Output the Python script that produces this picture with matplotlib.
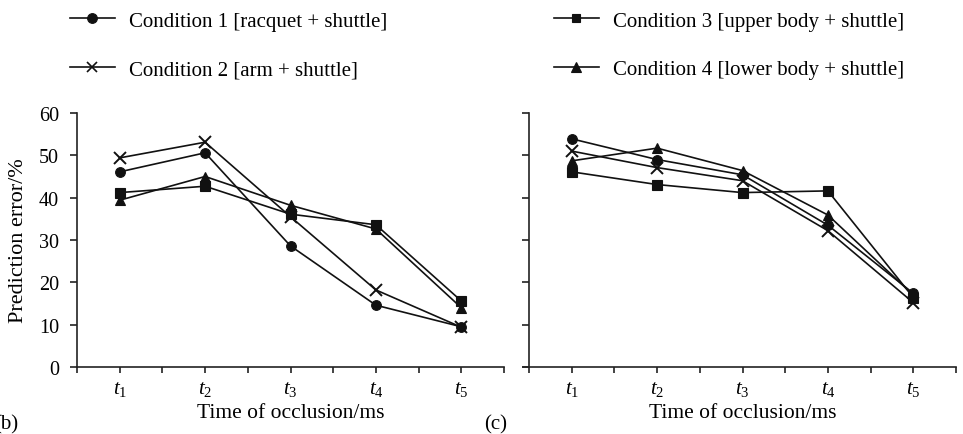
import matplotlib
matplotlib.use("Agg")
import matplotlib.pyplot as plt
from matplotlib.lines import Line2D

plt.rcParams['font.family'] = ['Liberation Serif', 'DejaVu Serif']
plt.rcParams['mathtext.fontset'] = 'custom'
plt.rcParams['mathtext.rm'] = 'Liberation Serif'
plt.rcParams['mathtext.it'] = 'Liberation Serif:italic'

time_labels = [r'$t_1$', r'$t_2$', r'$t_3$', r'$t_4$', r'$t_5$']
condition_labels = ['Condition 1 [racquet + shuttle]',
                    'Condition 2 [arm + shuttle]',
                    'Condition 3 [upper body + shuttle]',
                    'Condition 4 [lower body + shuttle]']

# panel (b)
b_cond1 = [46.1, 50.6, 28.6, 14.6, 9.5]
b_cond2 = [49.4, 53.1, 35.5, 18.2, 9.4]
b_cond3 = [41.2, 42.7, 36.1, 33.6, 15.6]
b_cond4 = [39.4, 45.0, 38.2, 32.6, 14.0]
# panel (c)
c_cond1 = [53.9, 49.0, 45.4, 33.5, 17.4]
c_cond2 = [51.0, 47.1, 44.0, 32.2, 15.2]
c_cond3 = [46.1, 43.1, 41.2, 41.6, 16.4]
c_cond4 = [48.7, 51.7, 46.4, 35.9, 17.0]

markers = ['o', 'x', 's', '^']
msizes = [7, 9, 7, 7.5]

W, H = 963, 435
fig = plt.figure(figsize=(W/100, H/100), dpi=100)

def px_axes(x0, x1, ytop, ybot):
    return fig.add_axes([x0/W, 1-ybot/H, (x1-x0)/W, (ybot-ytop)/H])

axb = px_axes(77, 504, 114, 368)
axc = px_axes(529, 956, 114, 368)

x = list(range(1, 6))
for ax, series in [(axb, [b_cond1, b_cond2, b_cond3, b_cond4]),
                   (axc, [c_cond1, c_cond2, c_cond3, c_cond4])]:
    for s, m, ms in zip(series, markers, msizes):
        ax.plot(x, s, color='#111111', lw=1.2, marker=m, markersize=ms,
                markeredgewidth=1.4 if m == 'x' else 0.8, markerfacecolor='#111111',
                markeredgecolor='#111111', clip_on=False)
    ax.set_xlim(0.5, 5.5)
    ax.set_ylim(0, 60)
    ax.spines['top'].set_visible(False)
    ax.spines['right'].set_visible(False)
    for sp in ['left', 'bottom']:
        ax.spines[sp].set_linewidth(1.2)
        ax.spines[sp].set_color('#222222')
    ax.set_xticks([0.5, 1.5, 2.5, 3.5, 4.5, 5.5])
    ax.set_xticklabels([])
    ax.set_xticks(x, minor=True)
    ax.set_xticklabels(time_labels, minor=True, fontsize=15)
    ax.tick_params(axis='x', which='both', direction='out', length=4, width=1.2,
                   color='#222222', pad=5)
    ax.tick_params(axis='y', direction='out', length=5, width=1.2, color='#222222',
                   labelsize=14.5, pad=8)
    ax.set_yticks([0, 10, 20, 30, 40, 50, 60])
    ax.set_xlabel('Time of occlusion/ms', fontsize=15.5, labelpad=3)

axb.set_ylabel('Prediction error/%', fontsize=16, labelpad=8)
axc.set_yticklabels([])
axc.spines['bottom'].set_bounds(0.43, 5.5)

fig.text(-6/W, 1-425/H, '(b)', fontsize=15, va='center', ha='left')
fig.text(484/W, 1-425/H, '(c)', fontsize=15, va='center', ha='left')

handles = [Line2D([], [], color='#111111', lw=1.2, marker=m, markersize=mk,
                  markeredgewidth=1.2 if m == 'x' else 0.8, markerfacecolor='#111111')
           for m, mk in zip(markers, [7, 6.5, 6, 6.5])]

leg_kw = dict(frameon=False, fontsize=15, handlelength=2.15, handletextpad=0.7,
              labelspacing=1.4, borderpad=0, borderaxespad=0, loc='upper left')
fig.legend(handles[:2], condition_labels[:2], bbox_to_anchor=(70/W, 1-12/H), **leg_kw)
fig.legend(handles[2:], condition_labels[2:], bbox_to_anchor=(554/W, 1-12/H), **leg_kw)

fig.savefig('out.png', dpi=100)
